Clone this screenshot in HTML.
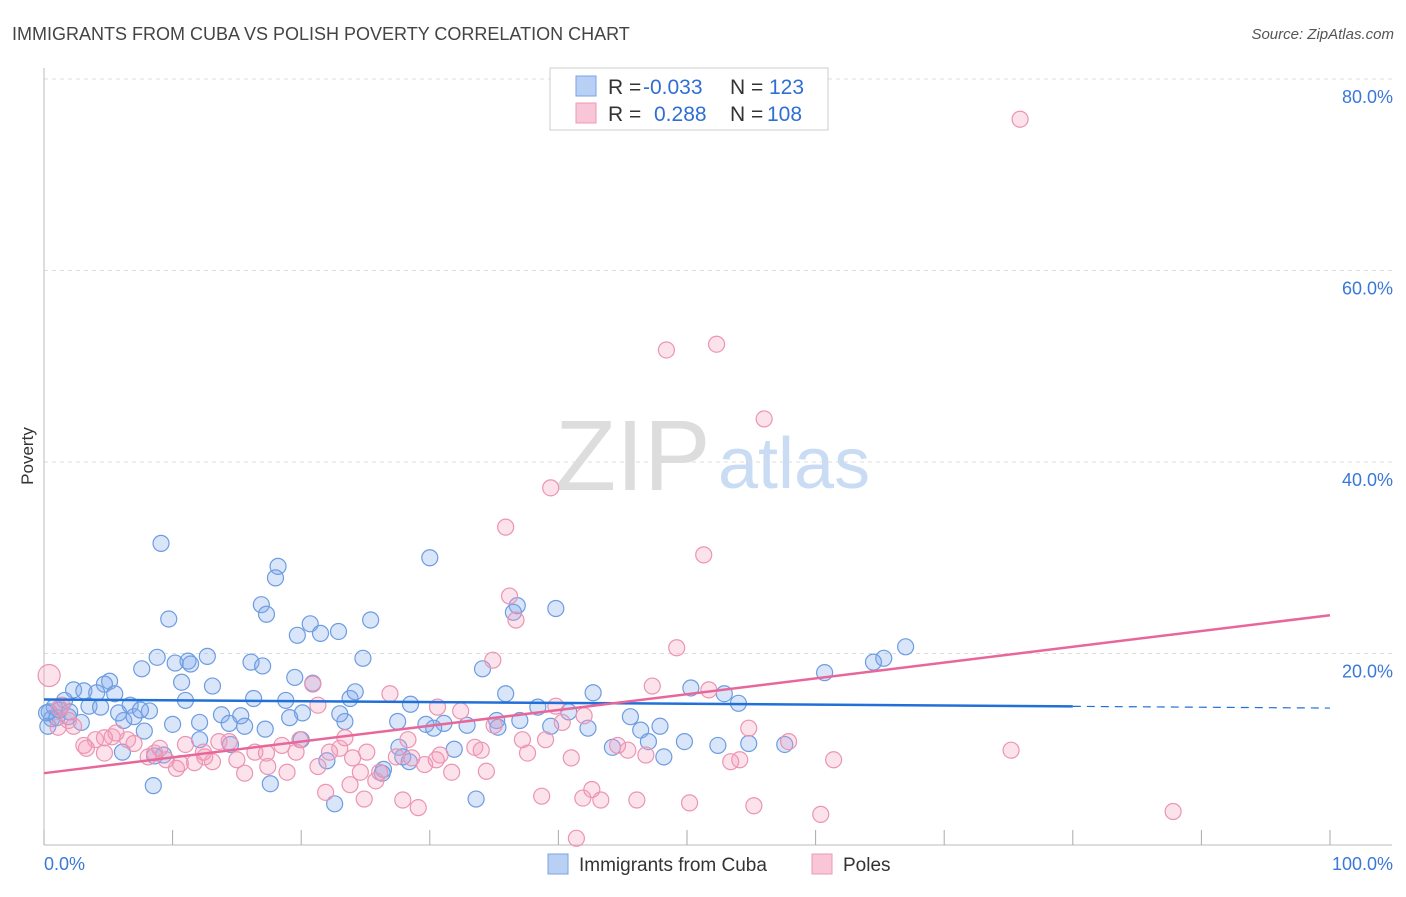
<!DOCTYPE html>
<html><head><meta charset="utf-8"><style>
body{margin:0;background:#fff;font-family:"Liberation Sans",sans-serif;}
svg text{font-family:"Liberation Sans",sans-serif;}
</style></head><body>
<svg id="chart" width="1406" height="892" viewBox="0 0 1406 892" xmlns="http://www.w3.org/2000/svg">
<text x="12" y="40" font-size="18" fill="#444">IMMIGRANTS FROM CUBA VS POLISH POVERTY CORRELATION CHART</text>
<text x="1394" y="39" font-size="15" fill="#555" text-anchor="end" font-style="italic">Source: ZipAtlas.com</text>
<text x="555" y="490" font-size="100" fill="#ddd" font-family="Liberation Serif, serif">ZIP</text>
<text x="718" y="488" font-size="72" fill="#c9dcf3">atlas</text>
<text transform="translate(33,456) rotate(-90)" font-size="17" fill="#333" text-anchor="middle">Poverty</text>
<g id="grid"></g>
<g id="pts"></g>
<g id="lines"></g>
<g>
<rect x="550" y="68" width="278" height="62" fill="#fff" stroke="#ccc"/>
<rect x="576" y="76" width="20" height="20" fill="#b8d0f3" stroke="#7aa3e2"/>
<rect x="576" y="103" width="20" height="20" fill="#f8c6d6" stroke="#ec9ab5"/>
<text x="608" y="94" font-size="21" fill="#333">R = <tspan x="643" fill="#2f6fd4">-0.033</tspan><tspan x="730">N = </tspan><tspan x="769" fill="#2f6fd4">123</tspan></text>
<text x="608" y="121" font-size="21" fill="#333">R = <tspan x="654" fill="#2f6fd4">0.288</tspan><tspan x="730">N = </tspan><tspan x="767" fill="#2f6fd4">108</tspan></text>
</g>
<g>
<rect x="548" y="854" width="20" height="20" fill="#b8d0f3" stroke="#7aa3e2"/>
<text x="579" y="871" font-size="19" fill="#333">Immigrants from Cuba</text>
<rect x="812" y="854" width="20" height="20" fill="#f8c6d6" stroke="#ec9ab5"/>
<text x="843" y="871" font-size="19" fill="#333">Poles</text>
</g>
</svg>
<script>
const yTicks=[20,40,60,80];
const yTickLabels=["20.0%","40.0%","60.0%","80.0%"];
const xTickLabels=["0.0%","100.0%"];
const cubaX=[9.1,9.7,18.2,18.0,16.9,17.3,30.0,20.7,19.7,21.5,22.9,25.4,39.8,36.8,36.5,67.0,65.3,64.5,60.7,12.7,8.8,10.2,11.2,11.4,7.6,16.1,17.0,24.8,10.7,13.1,19.5,20.9,34.1,5.1,4.7,2.3,3.1,4.1,5.5,3.5,6.7,8.2,1.6,0.8,0.4,1.2,0.6,0.3,1.9,2.9,6.2,7.0,4.4,5.8,10.0,12.1,13.8,15.3,16.3,18.8,23.8,24.2,28.5,35.9,42.7,50.3,52.9,54.0,38.4,40.8,45.6,47.9,46.4,39.4,42.3,37.0,35.2,35.3,31.1,30.3,29.7,27.5,23.4,23.0,20.1,19.1,14.4,15.6,12.1,14.5,6.1,7.8,8.6,9.3,20.0,22.0,27.6,27.9,28.4,31.9,26.4,26.3,44.2,47.0,49.8,52.4,54.8,57.6,48.2,8.5,17.6,22.6,33.6,0.2,1.0,2.0,7.5,11.0,17.2,32.9];
const cubaY=[31.5,23.6,29.1,27.9,25.1,24.1,30.0,23.1,21.9,22.1,22.3,23.5,24.7,25.0,24.3,20.7,19.5,19.1,18.0,19.7,19.6,19.0,19.2,18.9,18.4,19.1,18.7,19.5,17.0,16.6,17.5,16.9,18.4,17.1,16.8,16.2,16.1,15.9,15.8,14.5,14.6,14.0,15.1,14.4,13.9,14.1,13.2,12.4,13.4,12.8,13.0,13.4,14.4,13.8,12.6,12.8,13.6,13.5,15.3,15.1,15.3,16.0,14.7,15.8,15.9,16.4,15.8,14.8,14.4,13.9,13.4,12.4,12.0,12.4,12.2,13.0,13.0,12.3,12.7,12.2,12.6,12.9,12.9,13.7,13.8,13.3,12.7,12.4,11.0,10.5,9.7,11.9,9.3,9.4,11.0,8.8,10.2,9.2,8.7,10.0,7.9,7.5,10.2,10.8,10.8,10.4,10.6,10.5,9.2,6.2,6.4,4.3,4.8,13.8,13.3,13.9,14.1,15.1,12.1,12.5];
const polesX=[75.9,52.3,48.4,56.0,39.4,35.9,51.3,36.2,36.7,49.2,34.9,0.4,20.9,26.9,47.3,51.7,21.3,30.6,32.4,39.8,40.3,42.0,54.8,57.9,75.2,61.4,54.1,53.4,46.8,45.4,44.6,41.0,37.6,35.0,33.5,34.0,37.2,30.8,28.3,27.4,29.6,30.5,31.7,34.4,25.1,24.0,23.0,22.2,23.4,19.9,19.6,18.5,18.9,17.4,15.6,15.0,16.4,13.1,12.5,11.7,10.6,10.3,9.5,8.6,8.1,9.0,6.5,5.3,4.0,3.3,4.7,5.6,7.0,1.9,1.2,2.3,1.1,3.1,4.7,24.6,25.8,27.9,29.1,38.7,41.9,43.3,42.6,46.1,50.2,55.2,60.4,87.8,41.4,24.9,21.9,26.1,28.6,39.0,11.0,13.6,12.4,14.4,17.3,21.3,23.8,1.4];
const polesY=[75.8,52.3,51.7,44.5,37.3,33.2,30.3,26.0,23.5,20.6,19.3,17.7,16.8,15.8,16.6,16.2,14.6,14.4,14.0,14.5,12.8,13.5,12.2,10.8,9.9,8.9,8.9,8.7,9.4,9.9,10.4,9.1,9.6,12.5,10.2,9.9,11.0,9.4,11.0,9.2,8.4,8.9,7.6,7.7,9.7,9.1,10.1,9.7,11.2,11.0,9.7,10.4,7.6,8.2,7.5,8.9,9.7,8.7,9.2,8.6,8.5,8.0,8.9,9.6,9.2,10.1,11.0,11.3,11.0,10.1,9.6,11.7,10.6,13.0,14.3,12.4,12.3,10.4,11.2,7.6,6.7,4.7,3.9,5.1,4.9,4.7,5.8,4.7,4.4,4.1,3.2,3.5,0.7,4.8,5.5,7.6,9.1,11.0,10.5,10.8,9.7,10.8,9.6,8.2,6.3,14.6];
const cubaTrend=[15.2,-0.009];
const polesTrend=[7.5,0.165];
const NS="http://www.w3.org/2000/svg";
const X0=44,X1=1330,Y0=845,Y80=79;
function sx(v){return X0+(X1-X0)*v/100;}
function sy(v){return Y0-(Y0-Y80)*v/80;}
function mk(tag,attrs,parent){const e=document.createElementNS(NS,tag);for(const k in attrs)e.setAttribute(k,attrs[k]);parent.appendChild(e);return e;}
const grid=document.getElementById('grid');
yTicks.forEach((t,i)=>{
 const l=mk('line',{x1:X0,x2:1392,y1:sy(t),y2:sy(t),stroke:'#ddd','stroke-dasharray':'4,4'},grid);
 
 
 const tx=mk('text',{x:1393,y:sy(t)+24,'font-size':18,fill:'#3a78d8','text-anchor':'end'},grid);
 tx.textContent=yTickLabels[i];
 
 
});
const ax=mk('line',{x1:X0,x2:X0,y1:68,y2:Y0,stroke:'#bbb'},grid);


const bx=mk('line',{x1:X0,x2:1392,y1:Y0,y2:Y0,stroke:'#bbb'},grid);


for(let v=0;v<=100;v+=10){
 const t=mk('line',{x1:sx(v),x2:sx(v),y1:830,y2:Y0,stroke:'#aaa'},grid);
 
 
}
const xl0=mk('text',{x:44,y:870,'font-size':18,fill:'#3a78d8'},grid);xl0.textContent=xTickLabels[0];


const xl1=mk('text',{x:1393,y:870,'font-size':18,fill:'#3a78d8','text-anchor':'end'},grid);xl1.textContent=xTickLabels[1];


const pts=document.getElementById('pts');
cubaX.forEach((x,i)=>{
 const c=mk('circle',{cx:sx(x),cy:sy(cubaY[i]),r:8,fill:'rgba(130,170,235,0.3)',stroke:'#6d9ce2','stroke-width':1.2},pts);
 
 
});
polesX.forEach((x,i)=>{
 const c=mk('circle',{cx:sx(x),cy:sy(polesY[i]),r:i===11?11:8,fill:'rgba(245,160,190,0.3)',stroke:'#ec94b2','stroke-width':1.2},pts);
 
 
});
const lines=document.getElementById('lines');
const f=(tr,x)=>tr[0]+tr[1]*x;
const b1=mk('line',{x1:sx(0),y1:sy(f(cubaTrend,0)),x2:sx(80),y2:sy(f(cubaTrend,80)),stroke:'#2170d8','stroke-width':2.5},lines);


const b2=mk('line',{x1:sx(80),y1:sy(f(cubaTrend,80)),x2:sx(100),y2:sy(f(cubaTrend,100)),stroke:'#2170d8','stroke-width':1.2,'stroke-dasharray':'8,6'},lines);


const p1=mk('line',{x1:sx(0),y1:sy(f(polesTrend,0)),x2:sx(100),y2:sy(f(polesTrend,100)),stroke:'#e8679a','stroke-width':2.5},lines);


</script>
</body></html>
